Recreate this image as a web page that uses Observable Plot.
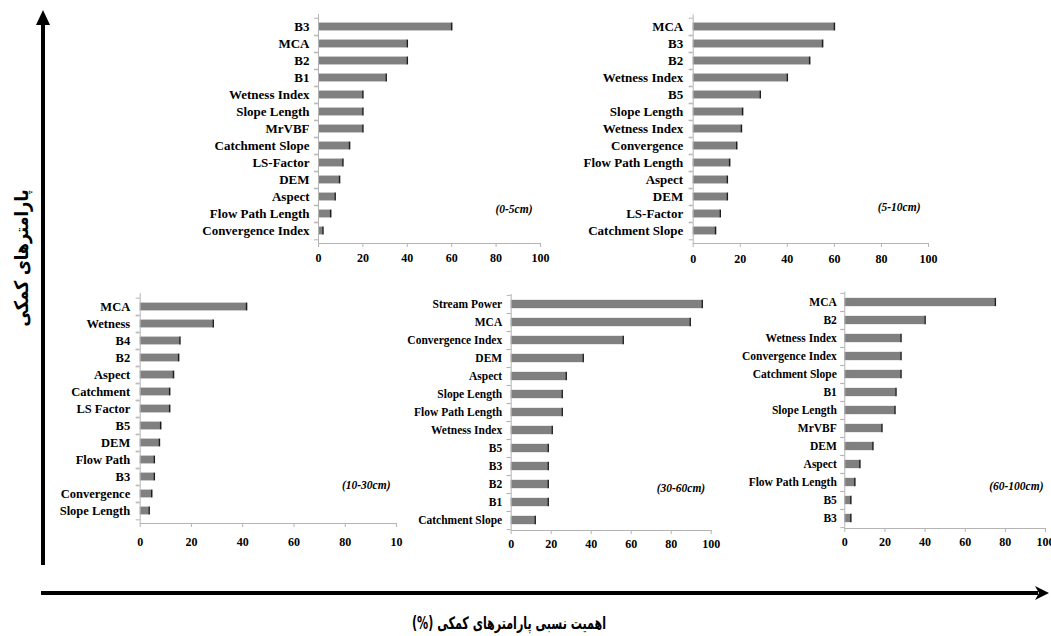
<!DOCTYPE html>
<html>
<head>
<meta charset="utf-8">
<script src="https://cdn.jsdelivr.net/npm/d3@7"></script>
<script src="https://cdn.jsdelivr.net/npm/@observablehq/plot@0.6"></script>
<style>
  body { margin: 0; background: #fff; }
  #fig { position: relative; width: 1051px; height: 636px; overflow: hidden; background: #fff; }
  #fig svg text { font-family: "Liberation Serif", "Tinos", "Times New Roman", "DejaVu Serif", "Noto Serif", serif !important; }
  #fig svg text.fa { font-family: "DejaVu Sans", sans-serif !important; }
</style>
</head>
<body>
<div id="fig"></div>
<script>
// Relative importance (%) of auxiliary parameters at each soil depth
const xTicks = [0, 20, 40, 60, 80, 100];
const tickLabels = ["0", "20", "40", "60", "80", "100"];
const tickLabelsCut = ["0", "20", "40", "60", "80", "10"];

const depth1 = "(0-5cm)";
const names1 = ["B3", "MCA", "B2", "B1", "Wetness Index", "Slope Length", "MrVBF",
  "Catchment Slope", "LS-Factor", "DEM", "Aspect", "Flow Path Length", "Convergence Index"];
const values1 = [60, 40, 40, 30.5, 20, 20, 20, 14, 11, 9.5, 7.5, 5.5, 2];

const depth2 = "(5-10cm)";
const names2 = ["MCA", "B3", "B2", "Wetness Index", "B5", "Slope Length", "Wetness Index",
  "Convergence", "Flow Path Length", "Aspect", "DEM", "LS-Factor", "Catchment Slope"];
const values2 = [60, 55, 49.5, 40, 28.5, 21, 20.5, 18.5, 15.5, 14.5, 14.5, 11.5, 9.5];

const depth3 = "(10-30cm)";
const names3 = ["MCA", "Wetness", "B4", "B2", "Aspect", "Catchment", "LS Factor", "B5",
  "DEM", "Flow Path", "B3", "Convergence", "Slope Length"];
const values3 = [41.5, 28.5, 15.5, 15, 13, 11.5, 11.5, 8, 7.5, 5.5, 5.5, 4.5, 3.5];

const depth4 = "(30-60cm)";
const names4 = ["Stream Power", "MCA", "Convergence Index", "DEM", "Aspect", "Slope Length",
  "Flow Path Length", "Wetness Index", "B5", "B3", "B2", "B1", "Catchment Slope"];
const values4 = [95.5, 89.5, 56, 36, 27.5, 25.5, 25.5, 20.5, 18.5, 18.5, 18.5, 18.5, 12];

const depth5 = "(60-100cm)";
const names5 = ["MCA", "B2", "Wetness Index", "Convergence Index", "Catchment Slope", "B1",
  "Slope Length", "MrVBF", "DEM", "Aspect", "Flow Path Length", "B5", "B3"];
const values5 = [75, 40, 28, 28, 28, 25.5, 25, 18.5, 14, 7.5, 5, 3, 3];

const yTitle = "پارامترهای کمکی";
const xTitle = "اهمیت نسبی پارامترهای کمکی (%)";

const fig = document.getElementById("fig");
const axisGray = "#b4b4b4";
const barFill = "#808080";
const barEdge = "#1e1e1e";

function panel(names, values, depth, labels, box) {
  const idx = names.map((_, i) => i);
  const rows = idx.map(i => ({i, v: values[i]}));
  const step = (box.axisY - box.top) / names.length;
  const ins = (step - 8.5) / 2;
  const svg = Plot.plot({
    width: box.W,
    height: box.H,
    marginLeft: box.x0 - box.L,
    marginRight: box.L + box.W - box.x100,
    marginTop: box.top - box.T,
    marginBottom: box.T + box.H - box.axisY,
    x: {domain: [0, 100], label: null},
    y: {type: "band", domain: idx, padding: 0, label: null},
    style: {background: "transparent", overflow: "visible"},
    marks: [
      Plot.barX(rows, {x: "v", y: "i", fill: barFill, insetTop: ins, insetBottom: ins}),
      Plot.tickX(rows, {x: "v", y: "i", stroke: barEdge, strokeWidth: 1.5, insetTop: ins, insetBottom: ins}),
      Plot.ruleX([0], {stroke: axisGray}),
      Plot.frame({anchor: "bottom", stroke: axisGray}),
      Plot.axisX({ticks: xTicks, tickSize: 4, tickPadding: box.tickPad, stroke: axisGray, strokeOpacity: 1,
        fill: "#000", fontWeight: "bold", fontSize: 12, label: null,
        tickFormat: d => labels[xTicks.indexOf(d)]}),
      Plot.axisY({tickSize: 4, dy: step / 2, stroke: axisGray, strokeOpacity: 1, tickFormat: () => "", label: null}),
      Plot.axisY({tickSize: 4, dy: -step / 2, stroke: axisGray, strokeOpacity: 1, tickFormat: () => "", label: null}),
      Plot.axisY({tickSize: 0, tickPadding: box.labelPad, fill: "#000", fontWeight: "bold", label: null,
        fontSize: box.fontSize, tickFormat: i => names[i]}),
      Plot.text([depth], {text: d => d, frameAnchor: "bottom-right", textAnchor: "end",
        dx: box.tagDx, dy: box.tagDy, fontStyle: "italic", fontWeight: "bold", fontSize: 11.5, fill: "#000"})
    ]
  });
  svg.style.position = "absolute";
  svg.style.left = box.L + "px";
  svg.style.top = box.T + "px";
  fig.appendChild(svg);
}

panel(names1, values1, depth1, tickLabels,
  {L: 185, T: 0, W: 370, H: 275, x0: 318, x100: 540, top: 14, axisY: 243,
   fontSize: 13, labelPad: 9, tickPad: 6, tagDx: -8, tagDy: -31});
panel(names2, values2, depth2, tickLabels,
  {L: 560, T: 0, W: 385, H: 275, x0: 692.7, x100: 928, top: 14.5, axisY: 243,
   fontSize: 13, labelPad: 10, tickPad: 7, tagDx: -8, tagDy: -33});
panel(names3, values3, depth3, tickLabelsCut,
  {L: 45, T: 280, W: 365, H: 275, x0: 139.7, x100: 396, top: 293.2, axisY: 523,
   fontSize: 12.5, labelPad: 10, tickPad: 10, tagDx: -6, tagDy: -35});
panel(names4, values4, depth4, tickLabels,
  {L: 400, T: 280, W: 325, H: 275, x0: 510.7, x100: 710.7, top: 294, axisY: 530,
   fontSize: 11.5, labelPad: 9, tickPad: 5, tagDx: -6, tagDy: -39});
panel(names5, values5, depth5, tickLabels,
  {L: 730, T: 280, W: 321, H: 275, x0: 844.3, x100: 1045, top: 291.6, axisY: 528,
   fontSize: 11.5, labelPad: 8, tickPad: 5, tagDx: -2, tagDy: -39});

// Overall axes: arrows and titles in Persian
const over = d3.select(fig).append("svg")
  .attr("width", 1051).attr("height", 636)
  .style("position", "absolute").style("left", "0px").style("top", "0px")
  .style("pointer-events", "none");

over.append("line").attr("x1", 43).attr("x2", 43).attr("y1", 22).attr("y2", 565)
  .attr("stroke", "#000").attr("stroke-width", 4);
over.append("path").attr("d", "M43,10 L50,25 L36,25 Z").attr("fill", "#000");

over.append("line").attr("x1", 41).attr("x2", 1038).attr("y1", 593).attr("y2", 593)
  .attr("stroke", "#000").attr("stroke-width", 4);
over.append("path").attr("d", "M1049,593 L1035,586 L1039,593 L1035,600 Z").attr("fill", "#000");

over.append("text").attr("class", "fa")
  .attr("transform", "translate(21,258) rotate(-90)")
  .attr("text-anchor", "middle").attr("dominant-baseline", "central")
  .attr("direction", "rtl")
  .attr("textLength", 137).attr("lengthAdjust", "spacingAndGlyphs")
  .style("font-weight", "bold").style("font-size", "19px")
  .text(yTitle);

over.append("text").attr("class", "fa")
  .attr("x", 509).attr("y", 623)
  .attr("text-anchor", "middle").attr("dominant-baseline", "central")
  .attr("direction", "rtl")
  .attr("textLength", 194).attr("lengthAdjust", "spacingAndGlyphs")
  .style("font-weight", "bold").style("font-size", "17px")
  .text(xTitle);
</script>
</body>
</html>
